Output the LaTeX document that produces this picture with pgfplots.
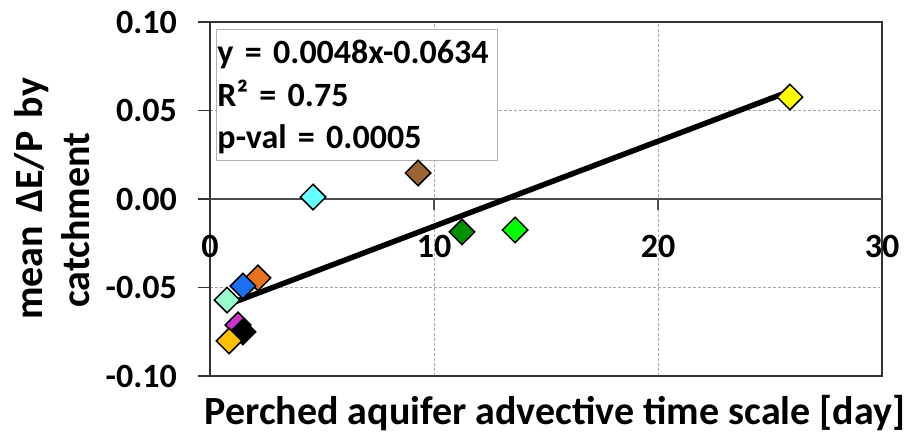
\documentclass[border=0pt]{standalone}
\usepackage{fontspec}
\setmainfont{Carlito}
\usepackage{pgfplots}
\pgfplotsset{compat=1.18}
\definecolor{cYellow}{HTML}{FFFF00}
\definecolor{cBrown}{HTML}{996633}
\definecolor{cCyan}{HTML}{66FFFF}
\definecolor{cDGreen}{HTML}{009000}
\definecolor{cLime}{HTML}{00FF00}
\definecolor{cOrange}{HTML}{E8731F}
\definecolor{cBlue}{HTML}{1E6FF0}
\definecolor{cMint}{HTML}{99FFCC}
\definecolor{cMagenta}{HTML}{CC33CC}
\definecolor{cGold}{HTML}{FFC000}
\pgfplotsset{dm/.style={only marks, mark=square*, mark size=9bp, mark options={rotate=45, draw=black, line width=1.5bp, fill=#1}}}
\begin{document}
\begin{tikzpicture}
\begin{axis}[
 width=672bp, height=354bp, scale only axis,
 xmin=0, xmax=30, ymin=-0.1, ymax=0.1,
 xtick={0,10,20,30}, ytick={-0.1,-0.05,0,0.05,0.1},
 grid=major,
 major grid style={densely dashed, draw=black!35, line width=0.8bp},
 axis line style={draw=black!80, line width=1.2bp},
 xtick style={draw=none},
 ytick pos=left, ytick align=outside,
 ytick style={draw=black!80, line width=1.2bp},
 major tick length=12bp,
 tick label style={font=\fontsize{34bp}{40bp}\selectfont\bfseries},
 /pgf/number format/assume math mode=true,
 yticklabel style={/pgf/number format/fixed, /pgf/number format/fixed zerofill, /pgf/number format/precision=2, anchor=east, inner sep=0pt, xshift=-21bp},
 xticklabel style={anchor=north, inner sep=0pt, yshift=141bp},
 xlabel={Perched aquifer advective time scale [day]},
 ylabel={mean\,\,ΔE/P\,\,by\\catchment\rule{42bp}{0pt}},
 label style={font=\fontsize{40bp}{47bp}\selectfont\bfseries, inner sep=0pt},
 xlabel style={at={(axis description cs:0.5134,-0.1384)}, anchor=base},
 ylabel style={at={(axis description cs:-0.17857,0.5)}, anchor=south, align=center},
]
\draw[black!70, line width=1.3bp] (axis cs:0,0) -- (axis cs:30,0);
\draw[black!70, line width=1.2bp] (axis cs:10,0) -- (axis cs:10,-0.0062);
\draw[black!70, line width=1.2bp] (axis cs:20,0) -- (axis cs:20,-0.0062);
\addplot[dm=cYellow] coordinates {(25.89,0.0576)};
\addplot[dm=cBrown] coordinates {(9.29,0.0147)};
\addplot[dm=cCyan] coordinates {(4.60,0.0011)};
\addplot[dm=cDGreen] coordinates {(11.25,-0.0186)};
\addplot[dm=cLime] coordinates {(13.62,-0.0175)};
\addplot[dm=cOrange] coordinates {(2.14,-0.0446)};
\addplot[dm=cBlue] coordinates {(1.47,-0.0492)};
\addplot[dm=cMint] coordinates {(0.76,-0.0571)};
\addplot[dm=cMagenta] coordinates {(1.25,-0.0712)};
\addplot[dm=black] coordinates {(1.47,-0.0751)};
\addplot[dm=cGold] coordinates {(0.85,-0.0802)};
\addplot[no marks, sharp plot, draw=black, line width=5.5bp] coordinates {(0.76,-0.0598) (25.89,0.0609)};
\node[draw=black!30, fill=white, line width=1bp, inner xsep=1bp, inner ysep=0pt, anchor=north west, align=left, text width=279bp, font=\fontsize{34bp}{42.5bp}\selectfont\bfseries] at (rel axis cs:0.00893,0.9802) {\rule{0pt}{34bp}y = 0.0048x-0.0634\\R² = 0.75\\p-val = 0.0005\rule[-12bp]{0pt}{12bp}};
\end{axis}
\pgfresetboundingbox
\path[use as bounding box] (-210bp,-61bp) rectangle (699bp,376bp);
\end{tikzpicture}
\end{document}
